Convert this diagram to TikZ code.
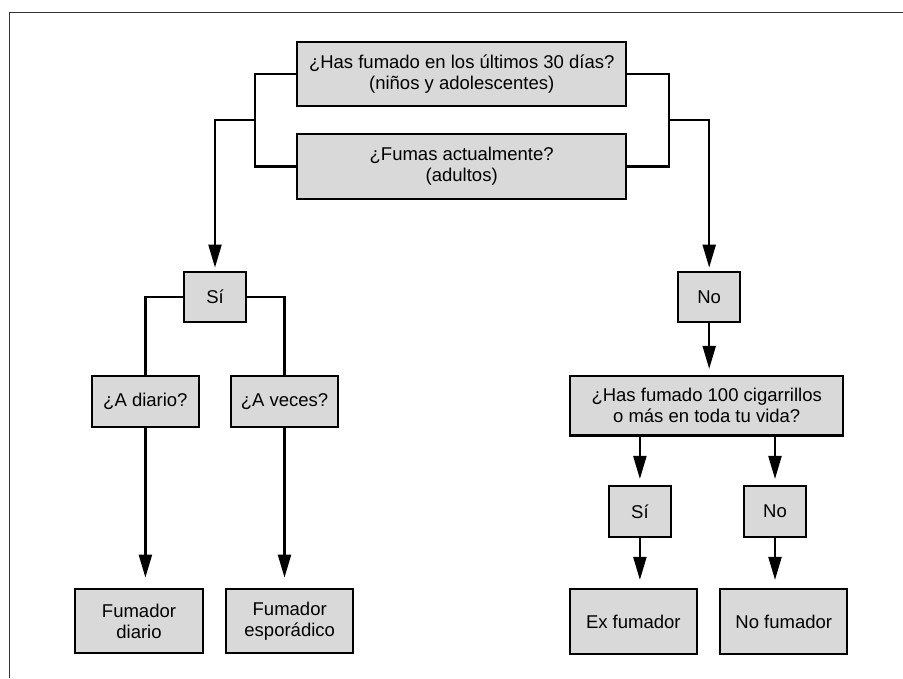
\documentclass[tikz,border=0pt]{standalone}
\usepackage{fontspec}
\setmainfont{Liberation Sans}
\usetikzlibrary{arrows.meta}
\begin{document}
\begin{tikzpicture}[x=1pt,y=-1pt,
 box/.style={draw=black, line width=2.2pt, fill=black!15, inner sep=0pt, align=center, font=\fontsize{18.5}{21}\selectfont},
 conn/.style={line width=2.2pt, draw=black},
 arr/.style={conn, -{Triangle[length=23pt,width=13pt]}},
]
\useasboundingbox (0,0) rectangle (903,678);
\draw[line width=1pt, black!80] (9.3,678) -- (9.3,12) -- (903,12);

\node[box, minimum width=328.7pt, minimum height=63.7pt] (q1) at (461.7,74.2) {¿Has fumado en los últimos 30 días?\\(niños y adolescentes)};
\node[box, minimum width=328.7pt, minimum height=65pt] (q2) at (461.7,166.5) {¿Fumas actualmente?\\(adultos)};
\node[box, minimum width=61.4pt, minimum height=50.6pt] (si1) at (215,297) {Sí};
\node[box, minimum width=61.7pt, minimum height=50.6pt] (no1) at (709.2,297) {No};
\node[box, minimum width=107.3pt, minimum height=51pt] (diario) at (145.4,401.2) {¿A diario?};
\node[box, minimum width=107.6pt, minimum height=51pt] (veces) at (284.5,401.2) {¿A veces?};
\node[box, minimum width=273.3pt, minimum height=59.5pt] (cien) at (706.7,405.7) {¿Has fumado 100 cigarrillos\\o más en toda tu vida?};
\node[box, minimum width=61.7pt, minimum height=51.3pt] (si2) at (639.9,511.7) {Sí};
\node[box, minimum width=62pt, minimum height=51.3pt] (no2) at (775,511.7) {No};
\node[box, minimum width=127.4pt, minimum height=64.6pt] (fd) at (139,621) {Fumador\\diario};
\node[box, minimum width=127.3pt, minimum height=64.6pt] (fe) at (289.7,621) {Fumador\\esporádico};
\node[box, minimum width=126.7pt, minimum height=65pt] (ex) at (633.3,621.5) {Ex fumador};
\node[box, minimum width=127pt, minimum height=65pt] (nf) at (783.8,621.5) {No fumador};

\coordinate (jl) at (255,120);
\coordinate (jr) at (669,120);
\draw[conn] (q1.west) -| (jl) |- (q2.west);
\draw[conn] (q1.east) -| (jr) |- (q2.east);
\draw[arr, shorten >=3pt] (jl) -| (si1.north);
\draw[arr, shorten >=3pt] (jr) -| (no1.north);

\draw[conn] (si1.west) -| (diario.north);
\draw[conn] (si1.east) -| (veces.north);
\draw[arr, shorten >=10pt] (diario.south) -- (diario.south |- fd.north);
\draw[arr, shorten >=10pt] (veces.south) -- (veces.south |- fe.north);

\draw[arr, shorten >=6pt] (no1.south) -- (no1.south |- cien.north);
\draw[arr, shorten >=6pt] (si2.north |- cien.south) -- (si2.north);
\draw[arr, shorten >=6pt] (no2.north |- cien.south) -- (no2.north);
\draw[arr, shorten >=8pt] (si2.south) -- (si2.south |- ex.north);
\draw[arr, shorten >=8pt] (no2.south) -- (no2.south |- nf.north);
\end{tikzpicture}
\end{document}
